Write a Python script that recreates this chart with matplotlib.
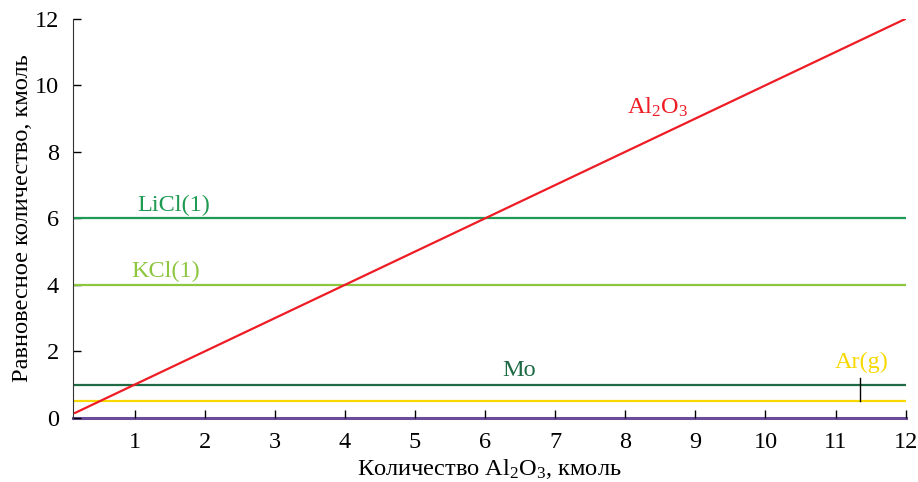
import numpy as np
import matplotlib
matplotlib.use("Agg")
import matplotlib.pyplot as plt

plt.rcParams["font.family"] = ["Liberation Serif", "DejaVu Serif"]
plt.rcParams["mathtext.fontset"] = "custom"
plt.rcParams["mathtext.rm"] = "Liberation Serif"
plt.rcParams["mathtext.it"] = "Liberation Serif:italic"

# data
al2o3_in = [0.15, 12.0]
al2o3_eq = [0.15, 12.0]
licl = [6.0, 6.0]
kcl = [4.0, 4.0]
mo = [1.0, 1.0]
ar = [0.5, 0.5]
other = [0.0, 0.0]
x_span = [0.12, 12.0]

red = "#ee1c25"
c_licl = "#1e9a52"
c_kcl = "#8dc63f"
c_mo = "#1f6b46"
c_ar = "#f7d800"
c_purple = "#6b4c9a"

fig = plt.figure(figsize=(9.18, 4.82), dpi=100)
ax = fig.add_axes([0.0795, 0.133, 0.907, 0.828])

ax.plot(x_span, other, color=c_purple, lw=2.2, clip_on=False, zorder=1)
ax.plot(x_span, ar, color=c_ar, lw=1.6)
ax.plot(x_span, mo, color=c_mo, lw=1.6)
ax.plot(x_span, kcl, color=c_kcl, lw=1.6)
ax.plot(x_span, licl, color=c_licl, lw=1.6)
ax.plot(al2o3_in, al2o3_eq, color=red, lw=1.6)

fs = 17.5
ax.text(1.56, 6.4, "LiCl(1)", color=c_licl, fontsize=fs, ha="center", va="center")
ax.text(1.44, 4.4, "KCl(1)", color=c_kcl, fontsize=fs, ha="center", va="center")
ax.text(6.49, 1.44, "Mo", color=c_mo, fontsize=fs, ha="center", va="center")
ax.text(11.37, 1.66, "Ar(g)", color=c_ar, fontsize=fs, ha="center", va="center")
ax.plot([11.35, 11.35], [0.5, 1.2], color="black", lw=1)
ax.text(8.46, 9.35, r"Al$_\mathrm{2}$O$_\mathrm{3}$", color=red, fontsize=fs,
        ha="center", va="center")

ax.set_xlim(x_span[0], 12)
ax.set_ylim(0, 12)
ax.set_xticks(range(1, 13))
ax.set_yticks(range(0, 13, 2))
ax.tick_params(direction="in", length=6, labelsize=17.5, width=1, pad=10)
ax.spines["top"].set_visible(False)
ax.spines["right"].set_visible(False)
ax.spines["left"].set_color("#333333")
ax.spines["bottom"].set_visible(False)

ax.set_xlabel(r"Количество Al$_\mathrm{2}$O$_\mathrm{3}$, кмоль", fontsize=17.6, labelpad=3)
ax.set_ylabel("Равновесное количество, кмоль", fontsize=17.6, labelpad=1)

plt.savefig("out.png", dpi=100)
plt.close()
